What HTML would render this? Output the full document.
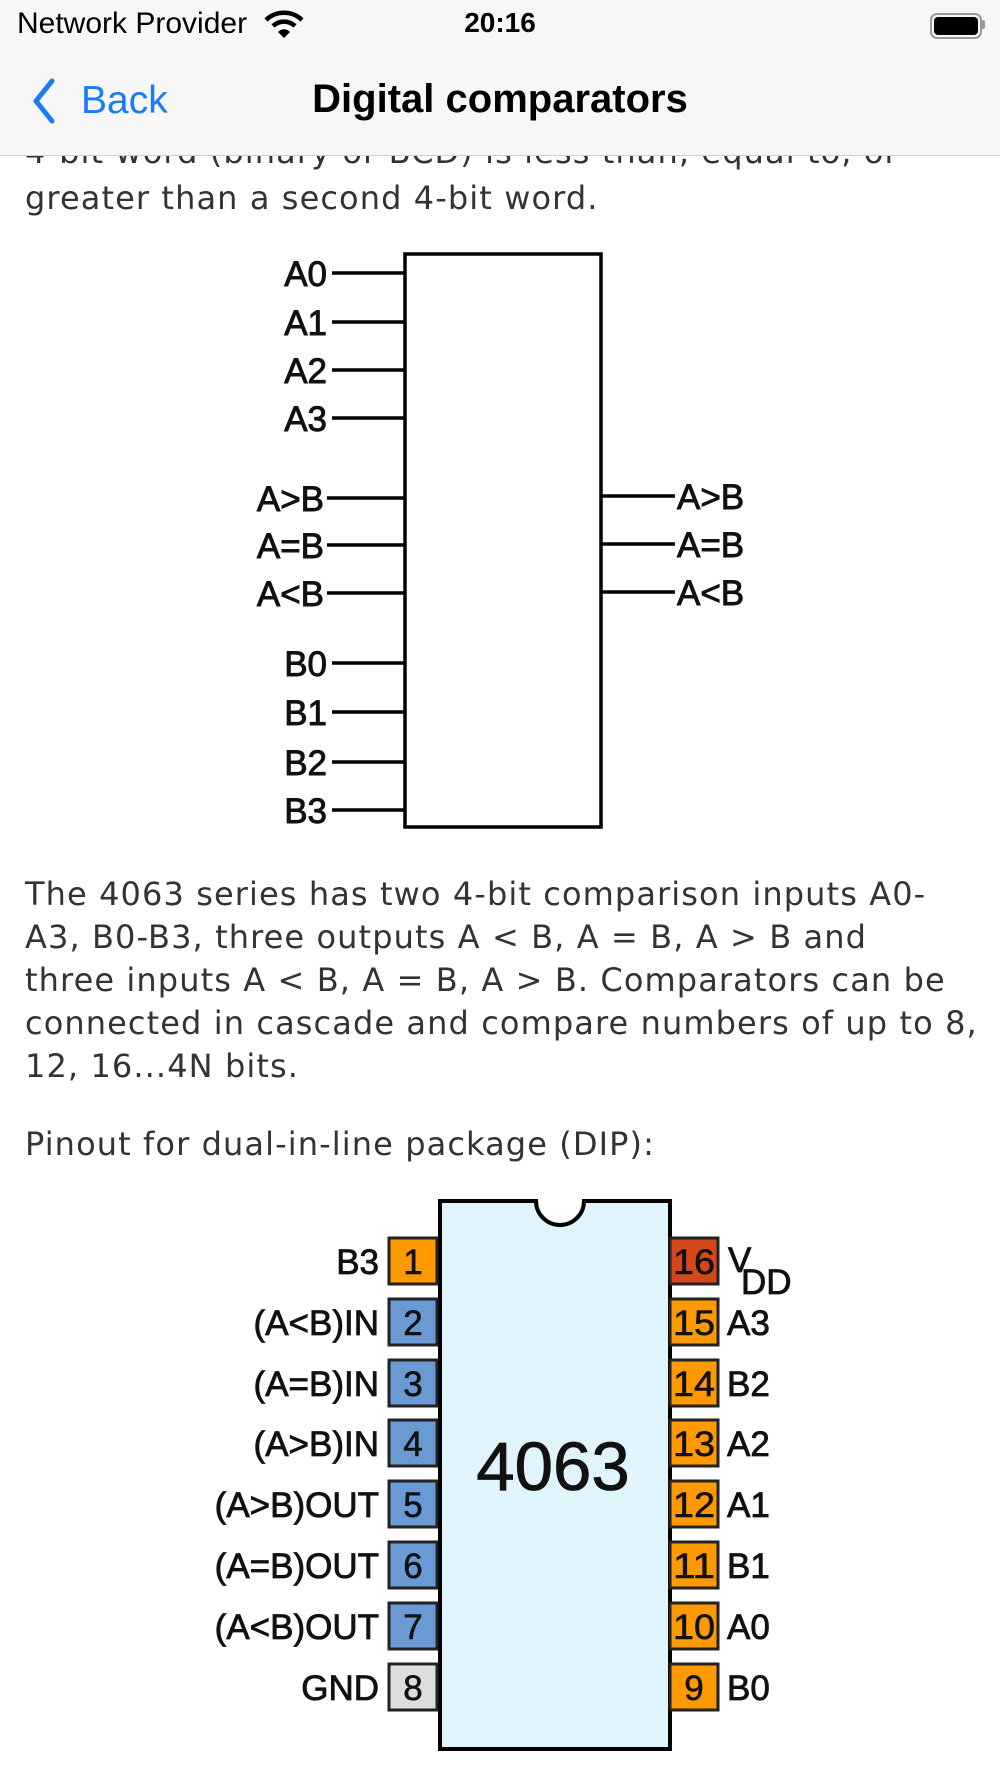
<!DOCTYPE html>
<html><head><meta charset="utf-8">
<style>
html,body{margin:0;padding:0;background:#fff;}
body{width:1000px;height:1778px;position:relative;overflow:hidden;font-family:"Liberation Sans",sans-serif;}
.p{position:absolute;left:25px;font-family:"DejaVu Sans","Liberation Sans",sans-serif;font-size:32px;letter-spacing:1.1px;color:#333;white-space:nowrap;line-height:43px;}
</style></head><body>
<div class="p" style="top:131px;">4-bit word (binary or BCD) is less than, equal to, or</div>
<div class="p" style="top:177px;">greater than a second 4-bit word.</div>

<div style="position:absolute;left:0;top:0;width:1000px;height:155px;background:#f7f7f7;border-bottom:1px solid #d0d0d0;"></div>
<div style="position:absolute;left:17px;top:7px;font-size:30px;color:#000;">Network Provider</div>
<svg style="position:absolute;left:264px;top:10px" width="40" height="30" viewBox="0 0 40 30">
<path d="M2 10 A26 26 0 0 1 38 10" stroke="#000" stroke-width="4.5" fill="none"/>
<path d="M9 16 A16 16 0 0 1 31 16" stroke="#000" stroke-width="4.5" fill="none"/>
<path d="M14 22 L20 28 L26 22 A8 8 0 0 0 14 22Z" fill="#000"/></svg>
<div style="position:absolute;left:0;width:1000px;text-align:center;top:7px;font-size:28px;font-weight:bold;">20:16</div>
<div style="position:absolute;left:930px;top:13px;width:48px;height:22px;border:2px solid #999;border-radius:7px;"></div>
<div style="position:absolute;left:934px;top:17px;width:44px;height:18px;background:#000;border-radius:4px;"></div>
<div style="position:absolute;left:982px;top:20px;width:3px;height:9px;background:#999;border-radius:0 2px 2px 0;"></div>

<svg style="position:absolute;left:30px;top:78px" width="30" height="46"><path d="M22 3 L6 23 L22 43" stroke="#1a7cf5" stroke-width="5" fill="none" stroke-linecap="round" stroke-linejoin="round"/></svg>
<div style="position:absolute;left:81px;top:79px;font-size:39px;color:#1a7cf5;">Back</div>
<div style="position:absolute;left:0;width:1000px;text-align:center;top:77px;font-size:40px;font-weight:bold;color:#000;">Digital comparators</div>

<svg style="position:absolute;left:0;top:0" width="1000" height="1778" font-family="Liberation Sans, sans-serif">
<g stroke="#000" stroke-width="3.5">
<rect x="405" y="254" width="196" height="573" fill="#fff"/>
<line x1="332" y1="273" x2="405" y2="273"/><line x1="332" y1="322" x2="405" y2="322"/>
<line x1="332" y1="370" x2="405" y2="370"/><line x1="332" y1="418" x2="405" y2="418"/>
<line x1="327" y1="498" x2="405" y2="498"/><line x1="327" y1="545" x2="405" y2="545"/>
<line x1="327" y1="593" x2="405" y2="593"/>
<line x1="332" y1="663" x2="405" y2="663"/><line x1="332" y1="712" x2="405" y2="712"/>
<line x1="332" y1="762" x2="405" y2="762"/><line x1="332" y1="810" x2="405" y2="810"/>
<line x1="601" y1="496" x2="675" y2="496"/><line x1="601" y1="544" x2="675" y2="544"/>
<line x1="601" y1="592" x2="675" y2="592"/>
</g>
<g font-size="35" fill="#111" text-anchor="end" stroke="#111" stroke-width="0.9">
<text x="327" y="286">A0</text><text x="327" y="335">A1</text><text x="327" y="383">A2</text><text x="327" y="431">A3</text>
<text x="324" y="511">A&gt;B</text><text x="324" y="558">A=B</text><text x="324" y="606">A&lt;B</text>
<text x="327" y="676">B0</text><text x="327" y="725">B1</text><text x="327" y="775">B2</text><text x="327" y="823">B3</text>
</g>
<g font-size="35" fill="#111" stroke="#111" stroke-width="0.9">
<text x="677" y="509">A&gt;B</text><text x="677" y="557">A=B</text><text x="677" y="605">A&lt;B</text>
</g>

<path d="M440 1201 L536 1201 A24 24 0 0 0 584 1201 L670 1201 L670 1749 L440 1749 Z" fill="#e0f4fc" stroke="#000" stroke-width="4"/>
<text x="553" y="1490" font-size="69" text-anchor="middle" fill="#111" stroke="#111" stroke-width="0.8">4063</text>
<g stroke="#222" stroke-width="3">
<rect x="389" y="1238" width="48" height="46" fill="#ff9900"/>
<rect x="389" y="1299" width="48" height="46" fill="#6a9ad4"/>
<rect x="389" y="1360" width="48" height="46" fill="#6a9ad4"/>
<rect x="389" y="1420" width="48" height="46" fill="#6a9ad4"/>
<rect x="389" y="1481" width="48" height="46" fill="#6a9ad4"/>
<rect x="389" y="1542" width="48" height="46" fill="#6a9ad4"/>
<rect x="389" y="1603" width="48" height="46" fill="#6a9ad4"/>
<rect x="389" y="1664" width="48" height="46" fill="#dddddd"/>
<rect x="670" y="1238" width="48" height="46" fill="#d5461a"/>
<rect x="670" y="1299" width="48" height="46" fill="#ff9900"/>
<rect x="670" y="1360" width="48" height="46" fill="#ff9900"/>
<rect x="670" y="1420" width="48" height="46" fill="#ff9900"/>
<rect x="670" y="1481" width="48" height="46" fill="#ff9900"/>
<rect x="670" y="1542" width="48" height="46" fill="#ff9900"/>
<rect x="670" y="1603" width="48" height="46" fill="#ff9900"/>
<rect x="670" y="1664" width="48" height="46" fill="#ff9900"/>
</g>
<g font-size="35" fill="#111" text-anchor="middle" stroke="#111" stroke-width="0.6">
<text x="413" y="1274">1</text><text x="413" y="1335">2</text><text x="413" y="1396">3</text><text x="413" y="1456">4</text>
<text x="413" y="1517">5</text><text x="413" y="1578">6</text><text x="413" y="1639">7</text><text x="413" y="1700">8</text>
<text x="694" y="1274" textLength="42" lengthAdjust="spacingAndGlyphs">16</text><text x="694" y="1335" textLength="42" lengthAdjust="spacingAndGlyphs">15</text><text x="694" y="1396" textLength="42" lengthAdjust="spacingAndGlyphs">14</text><text x="694" y="1456" textLength="42" lengthAdjust="spacingAndGlyphs">13</text>
<text x="694" y="1517" textLength="42" lengthAdjust="spacingAndGlyphs">12</text><text x="694" y="1578" textLength="42" lengthAdjust="spacingAndGlyphs">11</text><text x="694" y="1639" textLength="42" lengthAdjust="spacingAndGlyphs">10</text><text x="694" y="1700">9</text>
</g>
<g font-size="35" fill="#111" text-anchor="end" stroke="#111" stroke-width="0.8">
<text x="379" y="1274">B3</text><text x="379" y="1335">(A&lt;B)IN</text><text x="379" y="1396">(A=B)IN</text>
<text x="379" y="1456">(A&gt;B)IN</text><text x="379" y="1517">(A&gt;B)OUT</text><text x="379" y="1578">(A=B)OUT</text>
<text x="379" y="1639">(A&lt;B)OUT</text><text x="379" y="1700">GND</text>
</g>
<g font-size="35" fill="#111" stroke="#111" stroke-width="0.8">
<text x="728" y="1272">V</text><text x="741" y="1294">DD</text>
<text x="727" y="1335">A3</text><text x="727" y="1396">B2</text><text x="727" y="1456">A2</text>
<text x="727" y="1517">A1</text><text x="727" y="1578">B1</text><text x="727" y="1639">A0</text><text x="727" y="1700">B0</text>
</g>
</svg>

<div class="p" style="top:873px;">The 4063 series has two 4-bit comparison inputs A0-</div>
<div class="p" style="top:916px;">A3, B0-B3, three outputs A &lt; B, A = B, A &gt; B and</div>
<div class="p" style="top:959px;">three inputs A &lt; B, A = B, A &gt; B. Comparators can be</div>
<div class="p" style="top:1002px;">connected in cascade and compare numbers of up to 8,</div>
<div class="p" style="top:1045px;">12, 16...4N bits.</div>
<div class="p" style="top:1123px;">Pinout for dual-in-line package (DIP):</div>
</body></html>
